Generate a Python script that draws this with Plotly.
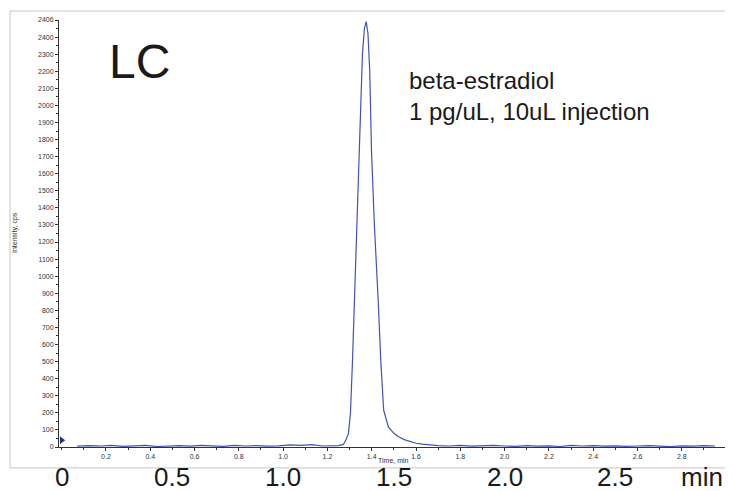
import plotly.graph_objects as go

# ---- data ----
time_min = [0.07, 0.12, 0.18, 0.22, 0.28, 0.33, 0.38, 0.43, 0.48, 0.53, 0.58, 0.63,
            0.68, 0.73, 0.78, 0.83, 0.88, 0.93, 0.98, 1.03, 1.08, 1.13, 1.18, 1.22,
            1.25, 1.272, 1.285, 1.295, 1.304, 1.313, 1.322, 1.331, 1.343, 1.349,
            1.358, 1.367, 1.375, 1.383, 1.391, 1.399, 1.412, 1.429, 1.441, 1.454,
            1.475, 1.50, 1.521, 1.55, 1.575, 1.60, 1.63, 1.66, 1.70, 1.75, 1.80,
            1.85, 1.90, 1.95, 2.00, 2.05, 2.10, 2.15, 2.20, 2.25, 2.30, 2.35, 2.40,
            2.45, 2.50, 2.55, 2.60, 2.65, 2.70, 2.75, 2.80, 2.85, 2.90, 2.95]
intensity = [5, 8, 6, 10, 4, 7, 9, 3, 6, 8, 5, 10, 7, 4, 9, 6, 8, 5, 7, 12, 9, 14, 6, 5,
             8, 15, 45, 80, 200, 500, 860, 1300, 1732, 2023, 2300, 2450, 2490, 2420,
             2200, 1732, 1300, 860, 500, 215, 118, 80, 60, 42, 31, 22, 17, 12, 8, 6,
             9, 5, 7, 10, 6, 4, 8, 5, 7, 3, 9, 6, 8, 5, 7, 4, 6, 8, 5, 3, 7, 5, 8, 6]

x_tick_vals = [0.2, 0.4, 0.6, 0.8, 1.0, 1.2, 1.4, 1.6, 1.8, 2.0, 2.2, 2.4, 2.6, 2.8]
x_tick_text = ["0.2", "0.4", "0.6", "0.8", "1.0", "1.2", "1.4", "1.6", "1.8", "2.0",
               "2.2", "2.4", "2.6", "2.8"]
y_tick_vals = list(range(0, 2401, 100)) + [2500]
y_tick_text = [str(v) for v in range(0, 2401, 100)] + ["2406"]

big_label_pos = [0, 0.5, 1.0, 1.5, 2.0, 2.5, 2.89]
big_label_text = ["0", "0.5", "1.0", "1.5", "2.0", "2.5", "min"]

# ---- layout geometry ----
# page body has an 8px margin, so the figure is drawn 8px smaller and offset
OFF = 8
W, H = 733 - OFF, 491 - OFF
PLOT_L, PLOT_R, PLOT_T, PLOT_B = 59, 725, 18, 447   # in window pixels
ML, MR = PLOT_L - OFF, (W + OFF) - PLOT_R
MT, MB = PLOT_T - OFF, (H + OFF) - PLOT_B
PW, PH = PLOT_R - PLOT_L, PLOT_B - PLOT_T


def px_x(px):
    return (px - PLOT_L) / PW


def px_y(py):
    return (PLOT_B - py) / PH


FONT = "Liberation Sans, Arial, sans-serif"

fig = go.Figure()
fig.add_trace(go.Scatter(
    x=time_min, y=intensity, mode="lines",
    line=dict(color="#4352b4", width=1.2),
    hoverinfo="skip", showlegend=False,
))
# small marker on the y axis
fig.add_trace(go.Scatter(
    x=[0.0], y=[40], mode="markers",
    marker=dict(symbol="triangle-right", size=7, color="#283080"),
    cliponaxis=False, showlegend=False, hoverinfo="skip",
))

tickfont = dict(family=FONT, size=7, color="#333333")

fig.update_layout(
    width=W, height=H,
    margin=dict(l=ML, r=MR, t=MT, b=MB, pad=0),
    paper_bgcolor="white", plot_bgcolor="white",
    font=dict(family=FONT, color="#222222"),
    xaxis=dict(
        range=[-0.012, 2.995], showgrid=False, zeroline=False,
        showline=True, linecolor="#333333", linewidth=1,
        tickmode="array", tickvals=x_tick_vals, ticktext=x_tick_text,
        ticks="outside", ticklen=3, tickcolor="#333333", tickfont=tickfont,
        minor=dict(dtick=0.1, tick0=0, ticks="outside", ticklen=2, tickcolor="#333333"),
    ),
    yaxis=dict(
        range=[0, 2500], showgrid=False, zeroline=False,
        showline=True, linecolor="#333333", linewidth=1,
        tickmode="array", tickvals=y_tick_vals, ticktext=y_tick_text,
        ticks="outside", ticklen=3, tickcolor="#333333", tickfont=tickfont,
        minor=dict(dtick=50, tick0=0, ticks="outside", ticklen=2, tickcolor="#333333"),
    ),
    shapes=[dict(
        type="rect", xref="paper", yref="paper",
        x0=px_x(10), x1=px_x(731), y0=px_y(468), y1=px_y(9),
        line=dict(color="#c8c8c8", width=1), fillcolor="rgba(0,0,0,0)", layer="below",
    )],
)

annotations = [
    dict(text="LC", xref="paper", yref="paper", x=px_x(139), y=px_y(60),
         xanchor="center", yanchor="middle", showarrow=False,
         font=dict(family=FONT, size=48, color="#1a1a1a")),
    dict(text="beta-estradiol<br>1 pg/uL, 10uL injection", xref="paper", yref="paper",
         x=px_x(407), y=px_y(94), xanchor="left", yanchor="middle", align="left",
         showarrow=False, font=dict(family=FONT, size=24, color="#1a1a1a")),
    dict(text="Intensity, cps", xref="paper", yref="paper", x=px_x(15), y=px_y(232),
         textangle=-90, xanchor="center", yanchor="middle", showarrow=False,
         font=dict(family=FONT, size=7, color="#333333")),
    dict(text="Time, min", xref="paper", yref="paper", x=px_x(393), y=px_y(461),
         xanchor="center", yanchor="middle", showarrow=False,
         font=dict(family=FONT, size=7, color="#333333")),
]
for pos, txt in zip(big_label_pos, big_label_text):
    annotations.append(dict(
        text=txt, xref="x", yref="paper", x=pos, y=px_y(477),
        xanchor="center", yanchor="middle", showarrow=False,
        font=dict(family=FONT, size=26, color="#1a1a1a"),
    ))
fig.update_layout(annotations=annotations)

fig.write_html("out.html")
